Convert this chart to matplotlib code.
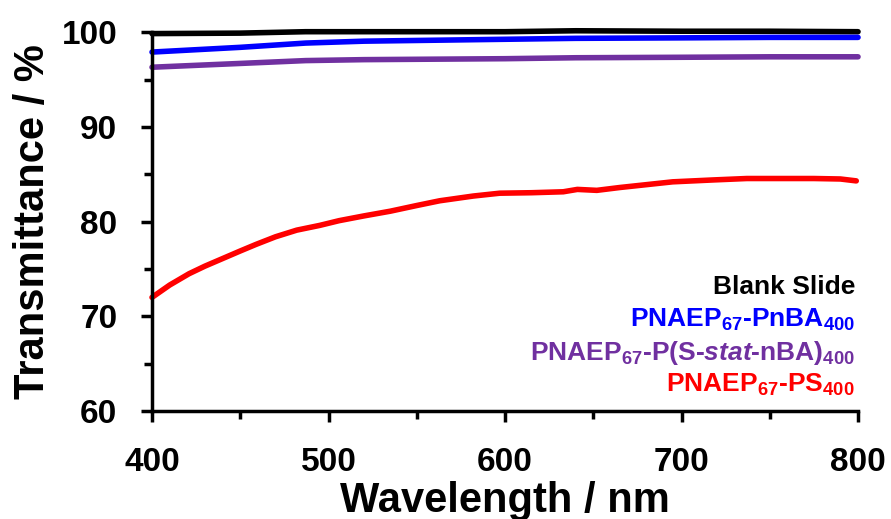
import matplotlib
matplotlib.use('Agg')
import matplotlib.pyplot as plt
from matplotlib.ticker import MultipleLocator

plt.rcParams['font.family'] = 'Liberation Sans'
plt.rcParams['font.weight'] = 'bold'
plt.rcParams['mathtext.fontset'] = 'custom'
plt.rcParams['mathtext.rm'] = 'Liberation Sans:bold'
plt.rcParams['mathtext.bf'] = 'Liberation Sans:bold'
plt.rcParams['mathtext.it'] = 'Liberation Sans:italic:bold'
plt.rcParams['mathtext.default'] = 'rm'

# wavelength grid (nm)
wl_flat = [400, 450, 487, 520, 560, 600, 640, 700, 750, 800]
blank = [99.85, 99.9, 100.05, 100.05, 100.05, 100.05, 100.15, 100.1, 100.1, 100.05]
pnba = [97.9, 98.4, 98.85, 99.05, 99.15, 99.25, 99.35, 99.4, 99.45, 99.45]
pstat = [96.3, 96.7, 97.0, 97.1, 97.15, 97.2, 97.3, 97.35, 97.4, 97.4]

wl_ps = [400, 410, 421, 430, 440, 450, 459, 470, 482, 495, 506, 520, 535,
         550, 563, 582, 597, 615, 633, 641, 652, 665, 680, 695, 718, 737,
         755, 775, 790, 799]
ps = [72.0, 73.3, 74.5, 75.3, 76.1, 76.9, 77.6, 78.4, 79.1, 79.6, 80.1,
      80.6, 81.1, 81.7, 82.2, 82.7, 83.0, 83.05, 83.15, 83.4, 83.3, 83.6,
      83.9, 84.2, 84.4, 84.55, 84.55, 84.55, 84.5, 84.3]

labels = ['Blank Slide',
          r'PNAEP$_{67}$-PnBA$_{400}$',
          r'PNAEP$_{67}$-P(S-$\mathit{stat}$-nBA)$_{400}$',
          r'PNAEP$_{67}$-PS$_{400}$']
colors = ['black', '#0000ff', '#7030a0', '#ff0000']

fig = plt.figure(figsize=(8.91, 5.19), dpi=100)
ax = fig.add_axes([0.1706, 0.208, 0.7924, 0.730])

series = [(wl_flat, blank), (wl_flat, pnba), (wl_flat, pstat), (wl_ps, ps)]
for (x, y), c in zip(series, colors):
    ax.plot(x, y, color=c, lw=4, solid_capstyle='round', clip_on=False)

ax.set_xlim(400, 800)
ax.set_ylim(60, 100)
ax.xaxis.set_major_locator(MultipleLocator(100))
ax.xaxis.set_minor_locator(MultipleLocator(50))
ax.yaxis.set_major_locator(MultipleLocator(10))
ax.yaxis.set_minor_locator(MultipleLocator(5))
ax.tick_params(which='major', length=8, width=2.5, labelsize=24)
ax.tick_params(which='minor', length=6, width=2.5)
ax.tick_params(axis='x', which='major', pad=18)
ax.tick_params(axis='y', which='major', pad=17)
for s in ['top', 'right']:
    ax.spines[s].set_visible(False)
for s in ['left', 'bottom']:
    ax.spines[s].set_linewidth(2.5)
for lab in ax.get_xticklabels() + ax.get_yticklabels():
    lab.set_fontweight('bold')

ax.set_xlabel('Wavelength / nm', fontsize=30, fontweight='bold', labelpad=2)
ax.set_ylabel('Transmittance / %', fontsize=30, fontweight='bold', labelpad=6)

ys = [287, 320, 353, 385]
for lab, c, yp in zip(labels, colors, ys):
    fig.text(855 / 891, 1 - yp / 519, lab, color=c, fontsize=19,
             fontweight='bold', ha='right', va='center')

fig.savefig('out.png', dpi=100)
